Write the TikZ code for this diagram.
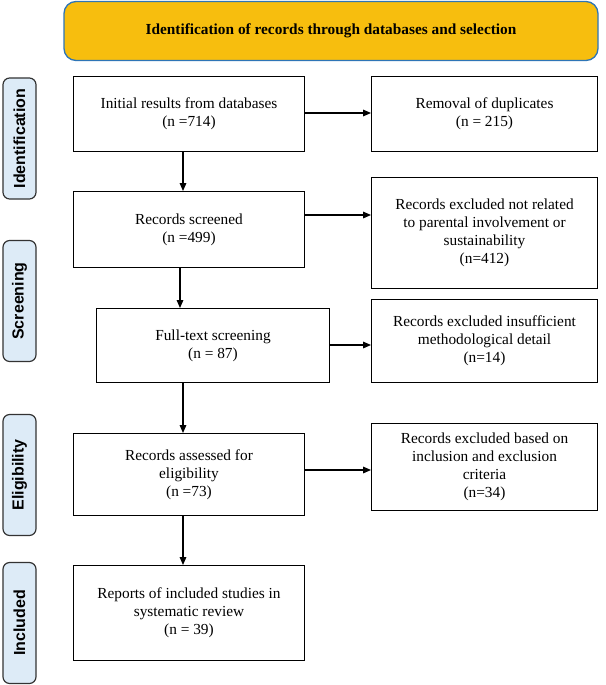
\documentclass[tikz,border=0pt]{standalone}
\usepackage{fontspec}
\setmainfont{Liberation Serif}
\newfontfamily\sidefont{Liberation Sans}
\usetikzlibrary{arrows.meta}
\definecolor{banner}{HTML}{F7BE0E}
\definecolor{bannerline}{HTML}{2E75B6}
\definecolor{sidefill}{HTML}{DDEBF7}
\begin{document}
\begin{tikzpicture}[x=0.75pt,y=-0.75pt,
  box/.style={draw,line width=0.8pt,align=center,font=\fontsize{11.5}{13.5}\selectfont,inner sep=2pt},
  side/.style={draw=black!80,fill=sidefill,line width=0.9pt,rounded corners=5pt,minimum width=90.75pt,minimum height=24.75pt,rotate=90,font=\sidefont\bfseries\fontsize{12}{14}\selectfont},
  arr/.style={-{Triangle[length=6pt,width=5pt]},line width=0.8pt}]
\useasboundingbox (0,0) rectangle (606,685);
\node[draw=bannerline,fill=banner,line width=1pt,rounded corners=9pt,minimum width=400.5pt,minimum height=44.25pt,font=\bfseries\fontsize{11.5}{13.5}\selectfont] (top) at (331,31) {Identification of records through databases and selection};
\node[side] (s1) at (19.5,138.5) {Identification};
\node[side] (s2) at (19.5,301) {Screening};
\node[side] (s3) at (19.5,475) {Eligibility};
\node[side] (s4) at (19.5,623) {Included};
\newcommand{\bx}[6]{\node[box,minimum width=#4*0.75pt-0.8pt,minimum height=#5*0.75pt-0.8pt] (#1) at (#2,#3) {#6};}
\bx{b1}{189}{114}{232}{76}{Initial results from databases\\(n =714)}
\bx{r1}{484.5}{114}{227}{76}{Removal of duplicates\\(n = 215)}
\bx{b2}{189}{229.5}{232}{77}{Records screened\\(n =499)}
\bx{r2}{484.5}{233}{227}{112}{Records excluded not related\\to parental involvement or\\sustainability\\(n=412)}
\bx{b3}{213}{345.5}{234}{75}{Full-text screening\\(n = 87)}
\bx{r3}{484.5}{341}{227}{84}{Records excluded insufficient\\methodological detail\\(n=14)}
\bx{b4}{189}{474.5}{232}{83}{Records assessed for\\eligibility\\(n =73)}
\bx{r4}{484.5}{467}{227}{88}{Records excluded based on\\inclusion and exclusion\\criteria\\(n=34)}
\bx{b5}{189}{613}{232}{96}{Reports of included studies in\\systematic review\\(n = 39)}
\draw[arr] (b1.south -| 183,0) -- (b2.north -| 183,0);
\draw[arr] (b2.south -| 180,0) -- (b3.north -| 180,0);
\draw[arr] (b3.south -| 183,0) -- (b4.north -| 183,0);
\draw[arr] (b4.south -| 183,0) -- (b5.north -| 183,0);
\draw[arr] (b1.east |- 0,113) -- (r1.west |- 0,113);
\draw[arr] (b2.east |- 0,215) -- (r2.west |- 0,215);
\draw[arr] (b3.east |- 0,345) -- (r3.west |- 0,345);
\draw[arr] (b4.east |- 0,470) -- (r4.west |- 0,470);
\end{tikzpicture}
\end{document}
